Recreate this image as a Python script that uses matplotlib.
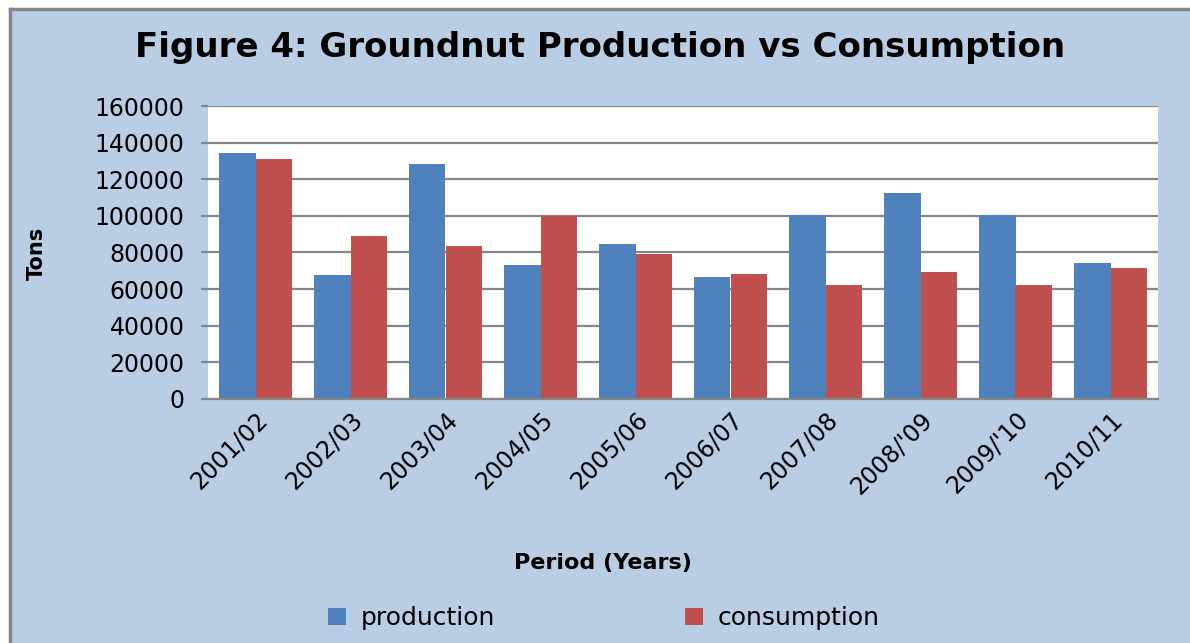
import numpy as np
import matplotlib
matplotlib.use("Agg")
import matplotlib.pyplot as plt
from matplotlib.patches import Rectangle
from matplotlib.lines import Line2D

# ---- data ------------------------------------------------------------------
periods = ["2001/02", "2002/03", "2003/04", "2004/05", "2005/06",
           "2006/07", "2007/08", "2008/'09", "2009/'10", "2010/11"]
production = [134500, 67500, 128500, 73000, 84500, 66500, 100700, 112700, 100700, 74000]
consumption = [131000, 89000, 83300, 100000, 79000, 68500, 62500, 69600, 62500, 71800]

BG = "#B9CDE5"
BLUE = "#4F81BD"
RED = "#C0504D"
GRID = "#868686"

fig = plt.figure(figsize=(11.9, 6.43), dpi=100)
fig.patch.set_facecolor("white")

# chart area background with the gray frame on top/left
fig.add_artist(Rectangle((10 / 1190, 0), 1, 1 - 9 / 643, transform=fig.transFigure,
                         facecolor=BG, edgecolor="none", zorder=-2))
fig.add_artist(Line2D([10 / 1190, 1], [1 - 9 / 643] * 2, transform=fig.transFigure,
                      color=GRID, lw=2.5))
fig.add_artist(Line2D([10 / 1190] * 2, [0, 1 - 9 / 643], transform=fig.transFigure,
                      color=GRID, lw=2.5))

ax = fig.add_axes([208 / 1190, 1 - 399 / 643, 950 / 1190, 293 / 643])
ax.set_facecolor("white")

x = np.arange(len(periods))
w = 0.38
ax.bar(x - w / 2, production, w, color=BLUE, label="production", zorder=3)
ax.bar(x + w / 2, consumption, w, color=RED, label="consumption", zorder=3)

ax.set_xlim(-0.5, len(periods) - 0.5)
ax.set_ylim(0, 160000)
ax.set_yticks(np.arange(0, 160001, 20000))
ax.yaxis.grid(True, color=GRID, lw=1.6, zorder=1)
ax.set_axisbelow(True)
for s in ["top", "right", "left"]:
    ax.spines[s].set_visible(False)
ax.spines["bottom"].set_color(GRID)
ax.spines["bottom"].set_linewidth(1.6)
ax.spines["bottom"].set_zorder(4)

ax.tick_params(axis="y", length=5, width=1.6, color=GRID, labelsize=17, pad=12)
ax.tick_params(axis="x", length=0, labelsize=17, pad=6)
ax.set_xticks(x)
ax.set_xticklabels(periods, rotation=45, ha="right", rotation_mode="anchor")

fig.text(37 / 1190, 1 - 253 / 643, "Tons", rotation=90, ha="center", va="center",
         fontsize=15, fontweight="bold")
fig.text(603 / 1190, 1 - 563 / 643, "Period (Years)", ha="center", va="center",
         fontsize=16, fontweight="bold")
fig.text(600 / 1190, 1 - 48 / 643, "Figure 4: Groundnut Production vs Consumption",
         ha="center", va="center", fontsize=24.5, fontweight="bold")

fig.legend(loc="center", bbox_to_anchor=(604 / 1190, 1 - 618 / 643), ncol=2,
           frameon=False, fontsize=18, handlelength=0.7, handleheight=0.7,
           columnspacing=7.6, handletextpad=0.6)

fig.savefig("out.png", dpi=100, facecolor=fig.get_facecolor())
